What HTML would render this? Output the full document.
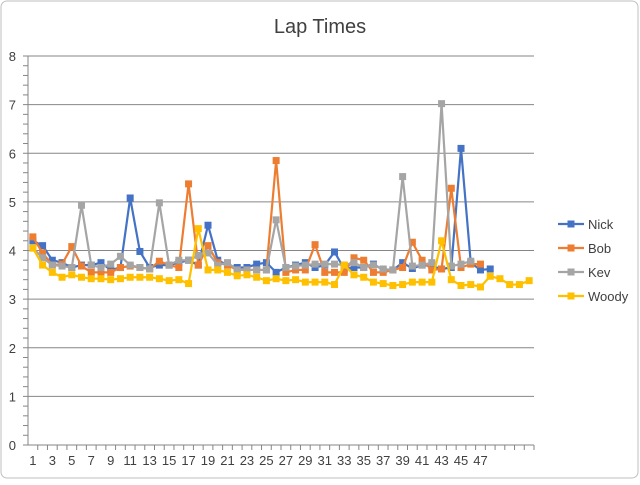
<!DOCTYPE html>
<html><head><meta charset="utf-8"><style>
body{margin:0;background:#fff;font-family:"Liberation Sans",sans-serif}
</style></head><body>
<svg id="c" width="640" height="480" xmlns="http://www.w3.org/2000/svg">
<rect x="1" y="1" width="637" height="477" rx="6" fill="#fff" stroke="#bfbfbf"/>
<text x="320" y="33" text-anchor="middle" font-size="20" fill="#404040">Lap Times</text>
</svg>
<script>
const categories=[];for(let i=1;i<=52;i++)categories.push(i);
const yTicks=[0,1,2,3,4,5,6,7,8];
const nick=[4.2,4.1,3.8,3.75,3.65,3.7,3.7,3.75,3.6,3.65,5.08,3.98,3.65,3.7,3.7,3.75,3.8,3.7,4.52,3.8,3.7,3.65,3.65,3.72,3.75,3.55,3.65,3.7,3.75,3.65,3.7,3.97,3.62,3.65,3.65,3.72,3.6,3.6,3.75,3.63,3.7,3.68,3.62,3.65,6.1,3.75,3.6,3.62];
const bob=[4.28,3.95,3.7,3.72,4.08,3.68,3.55,3.55,3.55,3.65,3.68,3.65,3.62,3.78,3.7,3.65,5.37,3.7,4.1,3.75,3.7,3.6,3.6,3.6,3.6,5.85,3.55,3.6,3.6,4.12,3.55,3.55,3.55,3.85,3.8,3.55,3.55,3.6,3.65,4.17,3.8,3.6,3.62,5.28,3.65,3.72,3.72];
const kev=[4.05,3.85,3.7,3.68,3.65,4.93,3.7,3.65,3.72,3.88,3.7,3.65,3.62,4.98,3.7,3.8,3.8,3.9,3.95,3.7,3.75,3.6,3.6,3.6,3.6,4.63,3.65,3.68,3.7,3.72,3.72,3.72,3.7,3.75,3.65,3.7,3.62,3.6,5.52,3.68,3.7,3.75,7.02,3.68,3.72,3.78];
const woody=[4.05,3.7,3.55,3.45,3.5,3.45,3.42,3.42,3.4,3.42,3.45,3.45,3.45,3.42,3.38,3.4,3.32,4.45,3.6,3.6,3.55,3.48,3.5,3.45,3.38,3.42,3.38,3.4,3.35,3.35,3.35,3.3,3.7,3.5,3.45,3.35,3.32,3.28,3.3,3.35,3.35,3.35,4.2,3.4,3.28,3.3,3.25,3.47,3.42,3.3,3.3,3.38];
const seriesNames=["Nick","Bob","Kev","Woody"];
const colors=["#4472c4","#ed7d31","#a5a5a5","#ffc000"];
const seriesData=[nick,bob,kev,woody];
const L=28,R=534,T=56,B=445,ymax=8;
const step=(R-L)/categories.length;
const xs=i=>L+step*(i+0.5);
const ys=v=>B-(v/ymax)*(B-T);
const svg=document.getElementById('c');const NS="http://www.w3.org/2000/svg";
function mk(t,a){const e=document.createElementNS(NS,t);for(const k in a)e.setAttribute(k,a[k]);svg.appendChild(e);return e;}
yTicks.forEach(t=>{
 const g=mk('line',{x1:L,x2:R,y1:ys(t),y2:ys(t),stroke:t===0?'#868686':'#868686','stroke-width':1});
 
 
 const tx=mk('text',{x:L-12,y:ys(t)+5,'text-anchor':'end','font-size':13,fill:'#404040'});
 tx.textContent=t;
 
 
});
const ax=mk('line',{x1:L,x2:L,y1:T,y2:B,stroke:'#868686'});


for(let v=0;v<=ymax+0.001;v+=0.2){const m=mk('line',{x1:L-5,x2:L,y1:ys(v),y2:ys(v),stroke:'#868686'});}
categories.forEach((c,i)=>{
 const m=mk('line',{x1:L+step*(i+1),x2:L+step*(i+1),y1:B,y2:B+5,stroke:'#868686'});
 
 
 if(i%2===0&&c<=47){const t=mk('text',{x:xs(i),y:B+20,'text-anchor':'middle','font-size':13,fill:'#404040'});t.textContent=c;
 
 }
});
seriesData.forEach((d,s)=>{
 const pts=d.map((v,i)=>xs(i)+','+ys(v)).join(' ');
 const p=mk('polyline',{points:pts,fill:'none',stroke:colors[s],'stroke-width':2.2,'stroke-linejoin':'round'});
 
 
 d.forEach((v,i)=>{const r=mk('rect',{x:xs(i)-3.5,y:ys(v)-3.5,width:7,height:7,fill:colors[s]});
 
 });
 const ly=224+s*24;
 const ll=mk('line',{x1:558,x2:584,y1:ly,y2:ly,stroke:colors[s],'stroke-width':2.2});
 
 
 const lr=mk('rect',{x:567.5,y:ly-3.5,width:7,height:7,fill:colors[s]});
 
 
 const lt=mk('text',{x:588,y:ly+5,'font-size':13,fill:'#404040'});lt.textContent=seriesNames[s];
 
 
});
</script>
</body></html>
